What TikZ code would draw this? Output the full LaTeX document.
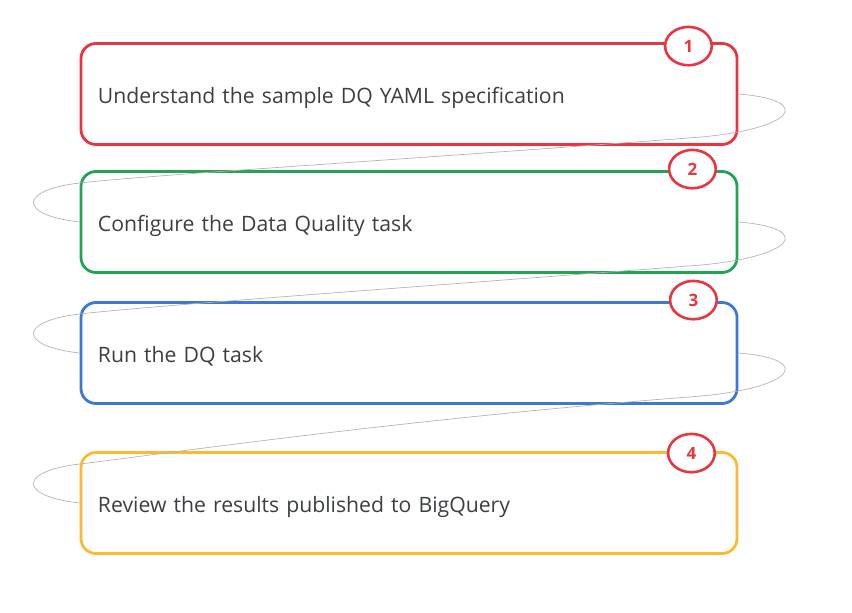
\documentclass[tikz,border=0pt]{standalone}
\usepackage{fontspec}
\setmainfont{Open Sans}
\usepackage{tikz}
\usetikzlibrary{calc,shapes,positioning}
\definecolor{dqred}{HTML}{E8353F}
\definecolor{dqgreen}{HTML}{23A455}
\definecolor{dqblue}{HTML}{3D78D8}
\definecolor{dqyellow}{HTML}{FBBA33}
\definecolor{dqtext}{HTML}{3C4043}
\definecolor{linkgray}{HTML}{B4B4B4}

\begin{document}
\begin{tikzpicture}[x=0.03cm,y=-0.03cm]
        \tikzstyle{stepbox} = [line width=2.4pt, rectangle, rounded corners=0.45cm, minimum height=3.03cm, text width=18.66cm, inner xsep=0.51cm, text height=0.6cm, text depth=0.06cm, align=left, text=dqtext, font=\fontsize{18.1}{21}\selectfont]
        \tikzstyle{numnode} = [line width=2.2pt, draw=dqred, fill=white, ellipse, minimum width=1.4cm, minimum height=1.15cm, inner sep=0pt, text=dqred, font=\bfseries\fontsize{14.5}{16}\selectfont]
        \tikzstyle{link} = [draw=linkgray, line width=0.6pt]

        \useasboundingbox (0,0) rectangle (852,612);

        \node[stepbox, draw=dqred] (b1) at (409,94) {Understand the sample DQ YAML specification};
        \node[stepbox, draw=dqgreen] (b2) at (409,222) {Configure the Data Quality task};
        \node[stepbox, draw=dqblue] (b3) at (409,353) {Run the DQ task};
        \node[stepbox, draw=dqyellow] (b4) at (409,503) {Review the results published to BigQuery};

        % loops from one step to the next
        \foreach \a/\b in {b1/b2,b2/b3,b3/b4}
          \draw[link] (\a.east) .. controls +(75,6) and +(95,-9) .. ($(\a.east)+(-37,43)$)
            .. controls +(-300,23) and +(69,-8) .. ($(\b.west)+(0,-39)$)
            .. controls +(-61,7) and +(-62,-7) .. (\b.west);

        \node[numnode] (n1) at ($(b1.north east)+(-50,4)$) {1};
        \node[numnode] (n2) at ($(b2.north east)+(-46,-1)$) {2};
        \node[numnode] (n3) at ($(b3.north east)+(-45,-1)$) {3};
        \node[numnode] (n4) at ($(b4.north east)+(-47,2)$) {4};
\end{tikzpicture}
\end{document}
